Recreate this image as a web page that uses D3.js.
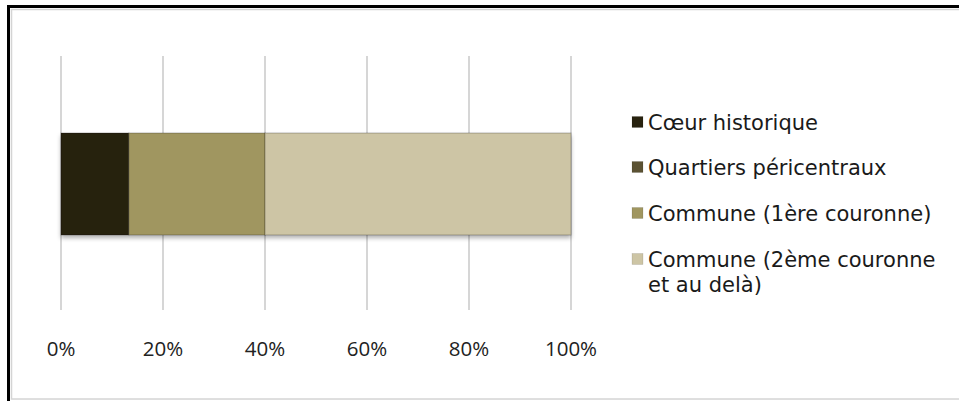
<!DOCTYPE html>
<html>
<head>
<meta charset="utf-8">
<script src="https://cdn.jsdelivr.net/npm/d3@7"></script>
<style>
body { margin: 0; background: #fff; }
</style>
</head>
<body>
<svg id="chart" width="959" height="401"></svg>
<script>
const categories = ["Cœur historique", "Quartiers péricentraux", "Commune (1ère couronne)", "Commune (2ème couronne et au delà)"];
const values = [13.3, 0, 26.7, 60];
const colors = ["#28220f", "#5b5233", "#a09660", "#cdc5a5"];
const tickValues = [0, 20, 40, 60, 80, 100];

const svg = d3.select("#chart");

// frame
svg.append("rect").attr("x", 8.5).attr("y", 6.5).attr("width", 960).attr("height", 400)
    .attr("fill", "none").attr("stroke", "#000").attr("stroke-width", 3);
svg.append("rect").attr("x", 11.5).attr("y", 9.5).attr("width", 960).attr("height", 389.5)
    .attr("fill", "none").attr("stroke", "#d4d4d4").attr("stroke-width", 1.5);

const defs = svg.append("defs");
const f = defs.append("filter").attr("id", "shadow").attr("x", "-5%").attr("y", "-10%")
    .attr("width", "110%").attr("height", "130%");
f.append("feDropShadow").attr("dx", 0).attr("dy", 3).attr("stdDeviation", 2)
    .attr("flood-color", "#000").attr("flood-opacity", 0.3);

const x = d3.scaleLinear().domain([0, 100]).range([61, 571]);

// gridlines
svg.selectAll(".grid")
    .data(tickValues)
    .enter().append("line")
    .attr("class", "grid")
    .attr("x1", d => x(d)).attr("x2", d => x(d))
    .attr("y1", 56).attr("y2", 310)
    .attr("stroke", "#c8c8c8").attr("stroke-width", 1.5);

// axis labels
svg.selectAll(".tick-label")
    .data(tickValues)
    .enter().append("text")
    .attr("class", "tick-label")
    .attr("x", d => x(d)).attr("y", 356)
    .attr("text-anchor", "middle")
    .style("font-family", "'Open Sans', sans-serif")
    .style("font-size", "20.5px")
    .attr("fill", "#222")
    .text(d => d + "%");

// stacked bar
let acc = 0;
const segs = values.map((v, i) => {
    const s = { start: acc, end: acc + v, color: colors[i] };
    acc += v;
    return s;
});

const barG = svg.append("g").attr("filter", "url(#shadow)");
barG.selectAll(".seg")
    .data(segs.filter(d => d.end > d.start))
    .enter().append("rect")
    .attr("class", "seg")
    .attr("x", d => x(d.start)).attr("width", d => x(d.end) - x(d.start))
    .attr("y", 133).attr("height", 102)
    .attr("fill", d => d.color)
    .attr("stroke", "rgba(0,0,0,0.25)").attr("stroke-width", 1);

// legend
const legendY = [122, 167, 213, 259];
const legend = svg.selectAll(".legend")
    .data(categories)
    .enter().append("g")
    .attr("class", "legend")
    .attr("transform", (d, i) => `translate(632,${legendY[i]})`);

legend.append("rect")
    .attr("x", 0).attr("y", -5.5).attr("width", 11).attr("height", 11)
    .attr("fill", (d, i) => colors[i])
    .attr("stroke", "rgba(0,0,0,0.2)").attr("stroke-width", 0.5);

legend.append("text")
    .attr("x", 16).attr("y", 7.5)
    .style("font-family", "'DejaVu Sans', Verdana, sans-serif")
    .style("font-size", "21px")
    .attr("fill", "#1a1a1a")
    .each(function (d) {
        const t = d3.select(this);
        if (d.startsWith("Commune (2ème")) {
            t.append("tspan").attr("x", 16).text("Commune (2ème couronne");
            t.append("tspan").attr("x", 16).attr("dy", 25).text("et au delà)");
        } else {
            t.text(d);
        }
    });
</script>
</body>
</html>
